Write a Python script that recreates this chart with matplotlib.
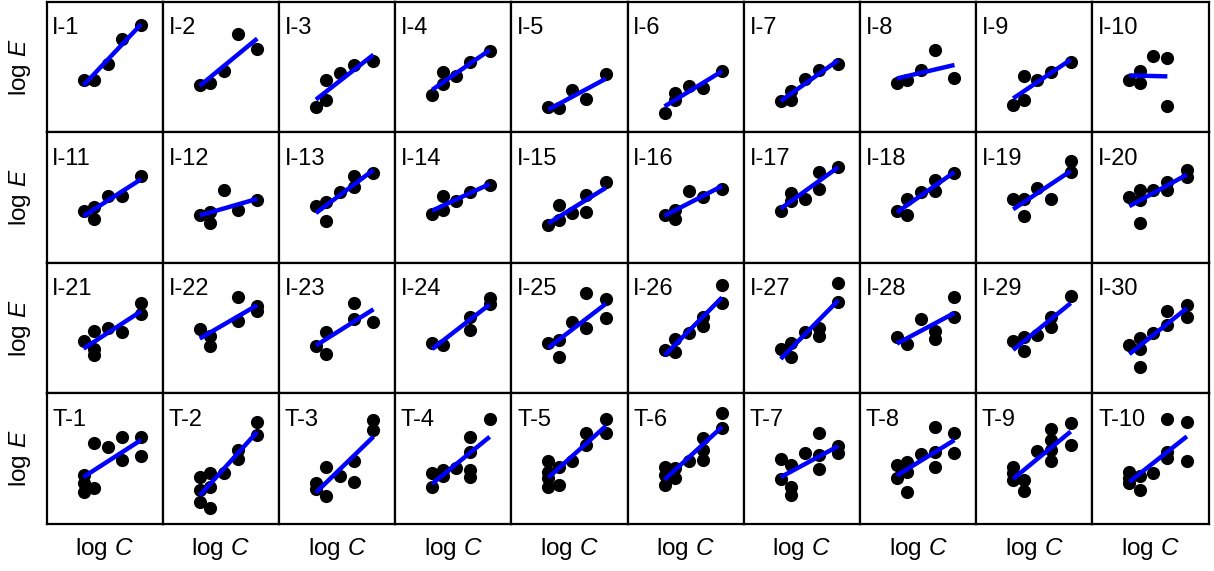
import matplotlib
matplotlib.use("Agg")
import matplotlib.pyplot as plt
import numpy as np

plt.rcParams['font.family'] = ['Liberation Sans', 'DejaVu Sans']
plt.rcParams['mathtext.fontset'] = 'custom'
plt.rcParams['mathtext.rm'] = 'Liberation Sans'
plt.rcParams['mathtext.it'] = 'Liberation Sans:italic'

# shared log C levels (arbitrary units, same for every panel)
logC_levels = [37.0, 47.5, 61.0, 75.0, 94.5]

labels_I1_10 = [f"I-{i}" for i in range(1, 11)]
labels_I11_20 = [f"I-{i}" for i in range(11, 21)]
labels_I21_30 = [f"I-{i}" for i in range(21, 31)]
labels_T1_10 = [f"T-{i}" for i in range(1, 11)]

# log E values, grouped per log C level for each panel
logE_I1_10 = [
    [[52.3], [51.7], [68.3], [93.3], [106.7]],
    [[47.3], [49.0], [60.7], [98.3], [83.3]],
    [[25.0], [51.7, 31.7], [59.0], [66.7], [71.0]],
    [[36.7], [60.0, 47.7], [55.7], [70.0], [81.0]],
    [[25.0], [24.3], [42.3], [33.3], [57.7]],
    [[19.0], [39.0, 31.7], [45.7], [44.3], [60.7]],
    [[30.7], [41.0, 31.7], [53.3], [61.7], [68.3]],
    [[49.0], [52.3], [61.7], [81.7], [54.3]],
    [[27.3], [31.7, 55.7], [52.3], [60.0], [70.0]],
    [[51.7], [61.0, 49.0], [75.7], [74.3, 25.7], []],
]
logE_I11_20 = [
    [[51.7], [55.7, 44.0], [66.3], [66.3], [86.3]],
    [[47.3], [50.7, 39.7], [72.3], [52.3], [62.3]],
    [[56.3], [60.7, 41.7], [70.7], [87.3, 75.7], [89.7]],
    [[49.0], [66.3, 52.3], [61.7], [70.7], [78.0]],
    [[38.0], [57.3, 43.0], [49.7], [67.3, 50.7], [80.7]],
    [[47.3], [52.3, 44.0], [71.3], [65.7], [74.0]],
    [[51.7], [69.7, 61.7], [64.0], [90.7, 74.0], [96.3]],
    [[51.7], [64.0, 47.3], [70.7], [83.0, 71.7], [89.7]],
    [[64.0], [64.0, 46.3], [75.0], [64.0], [102.3, 90.7]],
    [[65.7], [73.0, 62.3, 39.7], [72.3], [80.7, 72.3], [93.0, 85.7]],
]
logE_I21_30 = [
    [[52.7], [62.7, 44.0, 38.3], [65.0], [61.7], [90.0, 79.3]],
    [[64.0], [57.3, 47.3], [], [96.0, 72.7], [87.3, 82.7]],
    [[47.3], [61.7, 39.3], [], [90.7, 74.0], [71.7]],
    [[50.7], [48.3], [], [76.0, 63.3], [95.0, 89.3]],
    [[50.0], [53.3, 36.7], [71.7], [100.0, 65.0], [94.0, 75.0]],
    [[43.3], [54.0, 41.7], [60.7], [76.0, 67.3], [108.3, 90.7]],
    [[44.0], [50.7, 36.0], [61.7], [65.0, 57.3], [110.0, 91.7]],
    [[56.0], [49.3], [74.0], [62.7, 54.0], [96.0, 76.7]],
    [[52.7], [56.0, 42.7], [58.3], [76.0, 66.7], [97.3]],
    [[48.3], [55.0, 44.0, 26.7], [60.7], [82.7, 68.3], [88.3, 76.7]],
]
logE_T1_10 = [
    [[49.0, 40.7, 32.3], [81.3, 35.7], [77.3], [87.3, 64.0], [86.7, 68.0]],
    [[46.7, 34.0, 22.3], [50.7, 37.3, 15.7], [50.7], [74.0, 64.7], [102.3, 89.0]],
    [[41.3, 34.7], [57.3, 28.0], [48.0], [63.3, 42.3], [104.0, 94.0]],
    [[50.7, 37.3], [54.0, 48.0], [55.7], [87.3, 72.3, 54.0, 46.7], [104.7]],
    [[63.3, 52.3, 45.7, 37.3], [57.3, 39.0], [63.3], [90.7, 79.0], [104.7, 90.7]],
    [[57.3, 49.0, 39.0], [55.7, 45.7], [63.3], [85.7, 74.0, 64.0], [110.7, 95.7]],
    [[64.7, 44.7], [59.0, 37.3, 29.0], [71.3], [91.3, 69.0, 54.7], [78.0, 70.7]],
    [[59.0, 45.7], [62.3, 52.3, 32.3], [70.0], [96.7, 72.3, 56.7], [90.7, 71.3]],
    [[57.3, 50.7, 44.0], [44.0, 33.3], [73.3], [94.7, 84.0, 74.0, 63.3], [101.3, 79.0]],
    [[52.3, 45.7, 40.7], [48.0, 34.0], [51.3], [104.7, 72.3, 65.7], [102.3, 63.3]],
]

rows_labels = [labels_I1_10, labels_I11_20, labels_I21_30, labels_T1_10]
rows_data = [logE_I1_10, logE_I11_20, logE_I21_30, logE_T1_10]

W, H = 1214, 571
fig, axes = plt.subplots(4, 10, figsize=(W / 100, H / 100), dpi=100)
fig.subplots_adjust(left=46.5 / W, right=1208.5 / W, top=1 - 1.5 / H,
                    bottom=1 - 524 / H, wspace=0, hspace=0)

for r in range(4):
    for c in range(10):
        ax = axes[r, c]
        groups = rows_data[r][c]
        xs, ys = [], []
        for lvl, vals in zip(logC_levels, groups):
            for v in vals:
                xs.append(lvl)
                ys.append(v)
        xs = np.array(xs)
        ys = np.array(ys)
        ax.scatter(xs, ys, s=90, color='black', zorder=2, linewidths=0)
        k, b = np.polyfit(xs, ys, 1)
        xl = np.array([xs.min(), xs.max()])
        ax.plot(xl, k * xl + b, color='#0000ff', lw=3.2, zorder=3,
                solid_capstyle='butt')
        ax.set_xlim(0, 116.1)
        ax.set_ylim(0, 130.7)
        ax.set_xticks([])
        ax.set_yticks([])
        for sp in ax.spines.values():
            sp.set_linewidth(1.6)
            sp.set_color('black')
        ax.text(0.05, 0.75, rows_labels[r][c], transform=ax.transAxes,
                ha='left', va='baseline', fontsize=17)
        if c == 0:
            ax.set_ylabel("log $E$", fontsize=17.5, labelpad=10)
        if r == 3:
            ax.set_xlabel("log $C$", fontsize=17.5, labelpad=9)

fig.savefig("out.png", dpi=100)
